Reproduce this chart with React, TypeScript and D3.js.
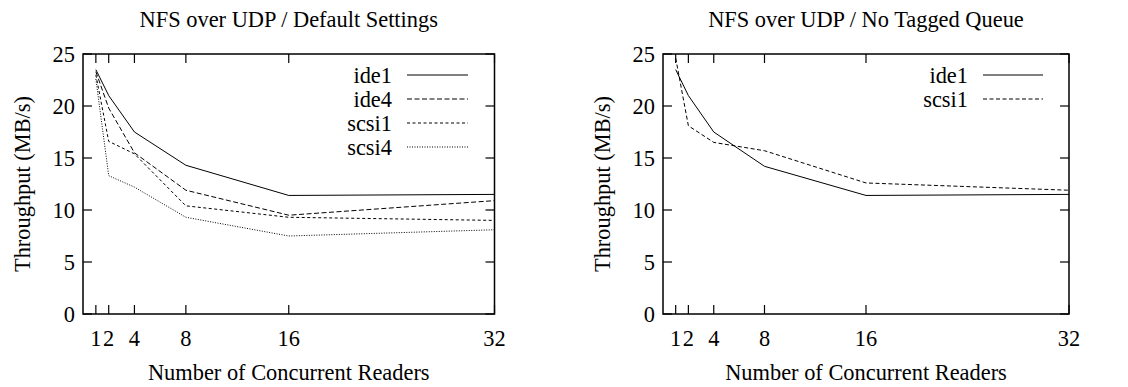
import React from "react";
import * as d3 from "d3";

const readers = [1, 2, 4, 8, 16, 32];
const xTicks = [1, 2, 4, 8, 16, 32];
const yTicks = [0, 5, 10, 15, 20, 25];

const leftIde1 = [23.5, 21.0, 17.5, 14.3, 11.4, 11.5];
const leftIde4 = [23.3, 19.8, 15.5, 11.9, 9.5, 10.9];
const leftScsi1 = [23.0, 16.6, 15.4, 10.4, 9.3, 9.0];
const leftScsi4 = [22.6, 13.3, 12.2, 9.3, 7.5, 8.1];

const rightIde1 = [23.5, 21.0, 17.5, 14.2, 11.4, 11.5];
const rightScsi1 = [24.6, 18.1, 16.5, 15.7, 12.6, 11.9];

type Series = { name: string; values: number[]; dash: string };

const FONT = "'Liberation Serif', 'Times New Roman', serif";

function Panel({
  title,
  series,
  left,
  right,
  legendTextX,
  legendLineX1,
  legendLineX2,
}: {
  title: string;
  series: Series[];
  left: number;
  right: number;
  legendTextX: number;
  legendLineX1: number;
  legendLineX2: number;
}) {
  const top = 54;
  const bottom = 314;
  const x = d3.scaleLinear().domain([0, 32]).range([left, right]);
  const y = d3.scaleLinear().domain([0, 25]).range([bottom, top]);
  const line = d3
    .line<number>()
    .x((_, i) => x(readers[i]))
    .y((d) => y(d));
  const cx = (left + right) / 2;
  const tl = 9;
  return (
    <g fontFamily={FONT} fill="#000">
      <text x={cx} y={27} textAnchor="middle" fontSize={22.4}>
        {title}
      </text>
      {yTicks.map((t) => (
        <g key={"y" + t}>
          <line x1={left} x2={left + tl} y1={y(t)} y2={y(t)} stroke="#000" strokeWidth={1.2} />
          <line x1={right} x2={right - tl} y1={y(t)} y2={y(t)} stroke="#000" strokeWidth={1.2} />
          <text x={left - 8} y={y(t)} dy="0.35em" textAnchor="end" fontSize={22.4}>
            {t}
          </text>
        </g>
      ))}
      {xTicks.map((t) => (
        <g key={"x" + t}>
          <line x1={x(t)} x2={x(t)} y1={bottom} y2={bottom - tl} stroke="#000" strokeWidth={1.2} />
          <line x1={x(t)} x2={x(t)} y1={top} y2={top + tl} stroke="#000" strokeWidth={1.2} />
          <text x={x(t)} y={346} textAnchor="middle" fontSize={22.4}>
            {t}
          </text>
        </g>
      ))}
      {series.map((s) => (
        <path
          key={s.name}
          d={line(s.values) || ""}
          fill="none"
          stroke="#000"
          strokeWidth={1}
          strokeDasharray={s.dash}
        />
      ))}
      <rect
        x={left}
        y={top}
        width={right - left}
        height={bottom - top}
        fill="none"
        stroke="#000"
        strokeWidth={1.5}
      />
      {series.map((s, i) => (
        <g key={"leg" + s.name}>
          <text x={legendTextX} y={75 + i * 24} dy="0.35em" textAnchor="end" fontSize={22.4}>
            {s.name}
          </text>
          <line
            x1={legendLineX1}
            x2={legendLineX2}
            y1={75 + i * 24}
            y2={75 + i * 24}
            stroke="#000"
            strokeWidth={1}
            strokeDasharray={s.dash}
          />
        </g>
      ))}
      <text
        transform={`translate(${left - 61},${(top + bottom) / 2}) rotate(-90)`}
        textAnchor="middle"
        dy="0.35em"
        fontSize={22.4}
      >
        Throughput (MB/s)
      </text>
      <text x={cx} y={380} textAnchor="middle" fontSize={22.4}>
        Number of Concurrent Readers
      </text>
    </g>
  );
}

export default function App() {
  const leftSeries: Series[] = [
    { name: "ide1", values: leftIde1, dash: "" },
    { name: "ide4", values: leftIde4, dash: "5,2.5" },
    { name: "scsi1", values: leftScsi1, dash: "3,2.5" },
    { name: "scsi4", values: leftScsi4, dash: "1,1.5" },
  ];
  const rightSeries: Series[] = [
    { name: "ide1", values: rightIde1, dash: "" },
    { name: "scsi1", values: rightScsi1, dash: "4,2.5" },
  ];
  return (
    <svg
      width={1128}
      height={387}
      style={{ position: "absolute", left: 0, top: 0, background: "#fff" }}
    >
      <Panel
        title="NFS over UDP / Default Settings"
        series={leftSeries}
        left={83}
        right={494.5}
        legendTextX={392}
        legendLineX1={407}
        legendLineX2={468}
      />
      <Panel
        title="NFS over UDP / No Tagged Queue"
        series={rightSeries}
        left={663}
        right={1069}
        legendTextX={968}
        legendLineX1={983}
        legendLineX2={1043}
      />
    </svg>
  );
}
